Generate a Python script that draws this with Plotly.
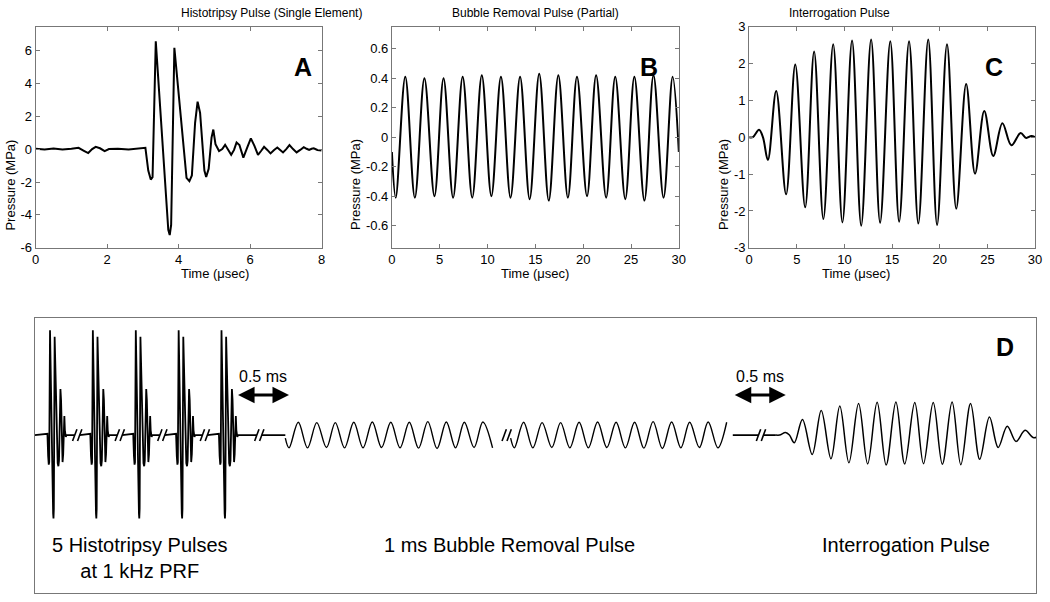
import plotly.graph_objs as go

FONT = "Liberation Sans, Arial, sans-serif"
AXC = "#777777"

# ---- panel A: histotripsy pulse (single element) ----
a_t = [0.0, 0.25, 0.5, 0.75, 1.0, 1.2, 1.35, 1.47, 1.58, 1.68, 1.8, 1.93, 2.05,
       2.3, 2.6, 2.9, 3.07, 3.15, 3.22, 3.27, 3.31, 3.36, 3.71, 3.75, 3.79,
       3.88, 4.22, 4.3, 4.37, 4.46, 4.53, 4.6, 4.72, 4.77, 4.84, 4.92, 4.97,
       5.03, 5.13, 5.22, 5.3, 5.38, 5.47, 5.55, 5.62, 5.7, 5.81, 5.92, 6.02,
       6.12, 6.22, 6.31, 6.39, 6.48, 6.57, 6.67, 6.76, 6.84, 6.92, 7.01, 7.1,
       7.2, 7.3, 7.4, 7.5, 7.58, 7.65, 7.72, 7.78, 7.88, 7.97, 8.0]
a_p = [0.02, -0.02, 0.03, -0.02, 0.02, 0.08, -0.1, -0.24, 0.0, 0.14, 0.05, -0.12, 0.0,
       0.02, -0.02, 0.03, 0.08, -1.3, -1.85, -1.7, 2.0, 6.55, -4.9, -5.22, -4.6,
       6.15, -1.75, -1.95, -1.6, 1.6, 2.88, 2.2, -1.3, -1.69, -1.2, 0.7, 1.19,
       0.3, -0.12, 0.0, 0.26, -0.05, -0.34, -0.05, 0.4, 0.25, -0.52, 0.1, 0.65,
       0.2, -0.35, -0.1, 0.14, -0.05, -0.26, -0.05, 0.1, -0.05, -0.2, 0.0, 0.24,
       0.0, -0.2, -0.05, 0.12, 0.02, -0.05, 0.02, 0.05, -0.05, -0.1, -0.08]
a_xticks = [0, 2, 4, 6, 8]
a_yticks = [-6, -4, -2, 0, 2, 4, 6]

# ---- panel B: bubble removal pulse (partial) ----
b_t = [0.0, 0.4, 1.4, 2.4, 3.4, 4.45, 5.4, 6.4, 7.4, 8.4, 9.4, 10.4, 11.4, 12.4,
       13.4, 14.4, 15.4, 16.4, 17.4, 18.4, 19.35, 20.4, 21.35, 22.4, 23.35,
       24.4, 25.35, 26.4, 27.35, 28.4, 29.35, 30.0]
b_p = [-0.10, -0.41, 0.41, -0.41, 0.40, -0.40, 0.40, -0.41, 0.41, -0.41, 0.42,
       -0.40, 0.41, -0.41, 0.41, -0.42, 0.43, -0.43, 0.42, -0.41, 0.41, -0.40,
       0.42, -0.41, 0.41, -0.42, 0.41, -0.43, 0.42, -0.41, 0.41, -0.10]
b_xticks = [0, 5, 10, 15, 20, 25, 30]
b_yticks = [-0.6, -0.4, -0.2, 0, 0.2, 0.4, 0.6]

# ---- panel C: interrogation pulse ----
c_t = [0.0, 0.4, 1.04, 1.45, 1.97, 2.84, 3.88, 4.84, 5.88, 6.82, 7.79, 8.82,
       9.79, 10.8, 11.76, 12.8, 13.74, 14.81, 15.74, 16.78, 17.75, 18.79,
       19.72, 20.76, 21.73, 22.77, 23.7, 24.67, 25.61, 26.57, 27.51, 28.48,
       29.07, 29.6, 30.0]
c_p = [0.0, 0.0, 0.2, 0.0, -0.62, 1.25, -1.55, 1.97, -1.9, 2.32, -2.22, 2.52,
       -2.31, 2.62, -2.4, 2.65, -2.32, 2.6, -2.29, 2.6, -2.34, 2.65, -2.38,
       2.52, -1.94, 1.44, -0.99, 0.71, -0.51, 0.38, -0.22, 0.11, -0.02, 0.03, 0.0]
c_xticks = [0, 5, 10, 15, 20, 25, 30]
c_yticks = [-3, -2, -1, 0, 1, 2, 3]

# ---- panel D: schematic of the sequence (arbitrary horizontal units) ----
d_range_x = [31, 1043]
d_range_y = [-162, 120]
d_hist_x = [46.5, 89.8, 133.2, 176.5, 219.8]   # where each histotripsy peak sits
d_hist_win = [2.9, 5.22]                        # part of pulse A shown
d_hist_scale = [9.0, 16.4]                      # per usec, per MPa
d_bubble_x = [284.3, 512.0]                     # start of each bubble-removal piece
d_bubble_win = [[0.0, 23.0], [0.0, 23.9]]
d_bubble_scale = [9.35, 32.0]
d_interr_x = 780.0
d_interr_scale = [9.48, 12.8]
d_break_x = [74, 117, 160, 203, 258, 508, 765]
d_flat_end = [284.3, 736.5]


def piece(t, p, t0, x0, sx, sy, lo, hi):
    xs, ys = [], []
    for ti, pi in zip(t, p):
        if lo <= ti <= hi:
            xs.append(x0 + (ti - t0) * sx)
            ys.append(pi * sy)
    return xs, ys


def axis_style(domain, rng, tickvals, ticktext, anchor):
    return dict(domain=domain, range=rng, anchor=anchor,
                tickvals=tickvals, ticktext=ticktext,
                showline=True, linecolor=AXC, linewidth=1, mirror="ticks",
                ticks="inside", ticklen=4, tickcolor=AXC,
                showgrid=False, zeroline=False,
                tickfont=dict(family=FONT, size=13, color="black"))


def fmt(vals):
    return [("%g" % v) for v in vals]


wave = dict(color="black", width=2)
data = [
    go.Scatter(x=a_t, y=a_p, mode="lines", line=wave, xaxis="x", yaxis="y"),
    go.Scatter(x=b_t, y=b_p, mode="lines", line=dict(shape="spline", smoothing=1, **wave),
               xaxis="x2", yaxis="y2"),
    go.Scatter(x=c_t, y=c_p, mode="lines", line=dict(shape="spline", smoothing=1, **wave),
               xaxis="x3", yaxis="y3"),
]

# schematic: histotripsy pulses, flat parts and gaps
hx, hy = [d_range_x[0]], [0]
gaps = d_break_x[:5]
for i, px in enumerate(d_hist_x):
    xs, ys = piece(a_t, a_p, 3.36, px, d_hist_scale[0], d_hist_scale[1],
                   d_hist_win[0], d_hist_win[1])
    hx += xs
    hy += ys
    g = gaps[i]
    hx += [g - 2.5, None, g + 2.5]
    hy += [0, None, 0]
hx += [d_flat_end[0], None, d_flat_end[1], d_break_x[6] - 2.5, None,
       d_break_x[6] + 2.5, d_interr_x]
hy += [0, None, 0, 0, None, 0, 0]
data.append(go.Scatter(x=hx, y=hy, mode="lines", line=dict(color="black", width=1.8),
                       xaxis="x4", yaxis="y4"))

bx, by = [], []
for x0, win in zip(d_bubble_x, d_bubble_win):
    xs, ys = piece(b_t, b_p, 0.0, x0, d_bubble_scale[0], d_bubble_scale[1], win[0], win[1])
    bx += xs + [None]
    by += ys + [None]
data.append(go.Scatter(x=bx, y=by, mode="lines", connectgaps=False,
                       line=dict(color="black", width=1.4, shape="spline", smoothing=1),
                       xaxis="x4", yaxis="y4"))

ix, iy = piece(c_t, c_p, 0.0, d_interr_x, d_interr_scale[0], d_interr_scale[1], 0, 30)
data.append(go.Scatter(x=ix, y=iy, mode="lines",
                       line=dict(color="black", width=1.5, shape="spline", smoothing=1),
                       xaxis="x4", yaxis="y4"))

# break marks "//"
sx, sy = [], []
for g in d_break_x:
    sx += [g - 4.7, g - 0.3, None, g + 0.3, g + 4.7, None]
    sy += [-6, 6, None, -6, 6, None]
data.append(go.Scatter(x=sx, y=sy, mode="lines", line=dict(color="black", width=1.6),
                       xaxis="x4", yaxis="y4"))

top = [1 - 247 / 602, 1 - 20 / 602]
dom_a = [32 / 1050, 321 / 1050]
dom_b = [392 / 1050, 682 / 1050]
dom_c = [753 / 1050, 1042 / 1050]

layout = go.Layout(
    width=1050, height=602, autosize=False,
    showlegend=False,
    paper_bgcolor="white", plot_bgcolor="white",
    margin=dict(l=0, r=0, t=0, b=0),
    font=dict(family=FONT, color="black"),
    xaxis=axis_style(dom_a, [0, 8], a_xticks, fmt(a_xticks), "y"),
    yaxis=axis_style(top, [-6, 7.45], a_yticks, fmt(a_yticks), "x"),
    xaxis2=axis_style(dom_b, [0, 30], b_xticks, fmt(b_xticks), "y2"),
    yaxis2=axis_style(top, [-0.75, 0.75], b_yticks, fmt(b_yticks), "x2"),
    xaxis3=axis_style(dom_c, [0, 30], c_xticks, fmt(c_xticks), "y3"),
    yaxis3=axis_style(top, [-3, 3], c_yticks, fmt(c_yticks), "x3"),
    xaxis4=dict(domain=[31 / 1050, 1043 / 1050], range=d_range_x, anchor="y4",
                showline=True, mirror=True, linecolor=AXC, linewidth=1,
                showticklabels=False, ticks="", showgrid=False, zeroline=False),
    yaxis4=dict(domain=[1 / 602, 283 / 602], range=d_range_y, anchor="x4",
                showline=True, mirror=True, linecolor=AXC, linewidth=1,
                showticklabels=False, ticks="", showgrid=False, zeroline=False),
)

ann = []
titles = ["Histotripsy Pulse (Single Element)", "Bubble Removal Pulse (Partial)",
          "Interrogation Pulse"]
letters = ["A", "B", "C"]
ylab_x = [7, 355, 727]
for dom, title, letter, yx in zip([dom_a, dom_b, dom_c], titles, letters, ylab_x):
    cx = (dom[0] + dom[1]) / 2
    ann.append(dict(x=cx, y=1 - 6 / 602, xref="paper", yref="paper", text=title,
                    showarrow=False, font=dict(size=12), yanchor="middle"))
    ann.append(dict(x=cx, y=1 - 273 / 602, xref="paper", yref="paper",
                    text="Time (\u03bcsec)", showarrow=False, font=dict(size=13),
                    yanchor="middle"))
    ann.append(dict(x=yx / 1050, y=(top[0] + top[1]) / 2, xref="paper", yref="paper",
                    text="Pressure (MPa)", textangle=-90, showarrow=False,
                    font=dict(size=13), xanchor="center"))
    ann.append(dict(x=dom[1] - 30 / 1050, y=1 - 45 / 602, xref="paper", yref="paper",
                    text="<b>%s</b>" % letter, showarrow=False, font=dict(size=25)))

ann.append(dict(x=1012, y=90, xref="x4", yref="y4", text="<b>D</b>", showarrow=False,
                font=dict(size=25)))
for x0, x1 in [(235, 288), (737, 790)]:
    ann.append(dict(x=x1, y=41, ax=x0, ay=41, xref="x4", yref="y4", axref="x4",
                    ayref="y4", text="", showarrow=True, arrowside="end+start",
                    arrowhead=2, arrowsize=1.1, arrowwidth=3, arrowcolor="black"))
    ann.append(dict(x=(x0 + x1) / 2, y=60, xref="x4", yref="y4", text="0.5 ms",
                    showarrow=False, font=dict(size=16)))
ann.append(dict(x=137, y=-126, xref="x4", yref="y4",
                text="5 Histotripsy Pulses<br>at 1 kHz PRF", showarrow=False,
                font=dict(size=20)))
ann.append(dict(x=511, y=-113, xref="x4", yref="y4", text="1 ms Bubble Removal Pulse",
                showarrow=False, font=dict(size=20)))
ann.append(dict(x=912, y=-113, xref="x4", yref="y4", text="Interrogation Pulse",
                showarrow=False, font=dict(size=20)))
layout.annotations = ann

fig = go.Figure(data=data, layout=layout)
fig.write_html("out.html", config={"displayModeBar": False},
               post_script="document.body.style.margin='0';"
                           "document.body.style.overflow='hidden';")
